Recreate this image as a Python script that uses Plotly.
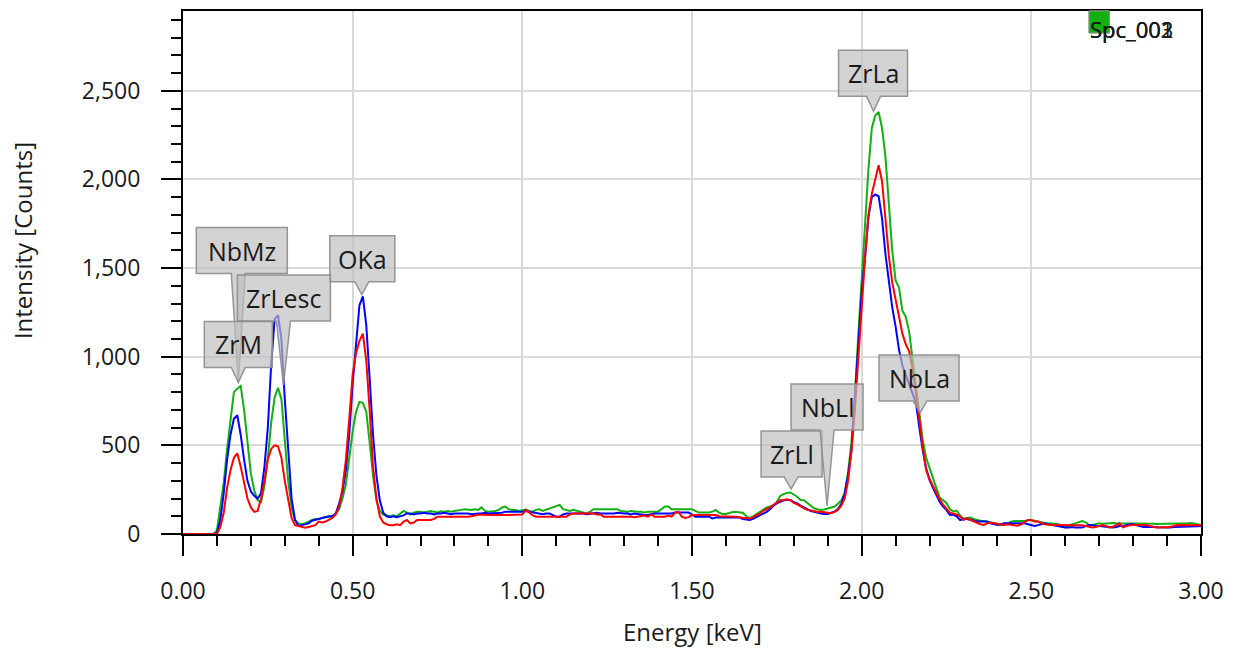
import plotly.graph_objects as go

# ---------------- data ----------------
CHANNEL_WIDTH_KEV = 0.01
channel_index = list(range(301))
energy_kev = [round(i * CHANNEL_WIDTH_KEV, 2) for i in channel_index]

spc_green = [
    0, 0, 0, 0, 0, 0, 0, 0, 0, 0,
    20, 150, 290, 480, 660, 800, 820, 835, 700, 520,
    340, 245, 190, 180, 270, 430, 630, 770, 825, 760,
    540, 300, 150, 80, 60, 55, 60, 70, 80, 85,
    85, 90, 95, 95, 100, 115, 140, 200, 280, 430,
    580, 690, 745, 740, 690, 520, 330, 190, 130, 110,
    105, 100, 105, 100, 115, 130, 120, 110, 120, 126,
    126, 122, 126, 130, 126, 122, 128, 126, 130, 126,
    130, 135, 136, 140, 136, 136, 140, 136, 150, 130,
    126, 126, 130, 136, 150, 155, 140, 136, 136, 130,
    136, 138, 130, 126, 136, 140, 130, 136, 145, 150,
    155, 164, 140, 136, 130, 136, 130, 126, 120, 116,
    126, 140, 140, 142, 140, 140, 140, 140, 140, 130,
    126, 126, 130, 126, 126, 126, 122, 126, 126, 126,
    126, 140, 155, 155, 140, 140, 140, 140, 140, 140,
    140, 130, 121, 121, 121, 121, 126, 136, 120, 113,
    113, 120, 124, 124, 124, 120, 100, 90, 100, 113,
    125, 135, 150, 155, 160, 180, 215, 225, 232, 234,
    222, 210, 192, 190, 175, 160, 145, 140, 136, 138,
    145, 150, 155, 170, 190, 230, 350, 520, 780, 1120,
    1450, 1780, 2060, 2290, 2360, 2380, 2290, 2130, 1880, 1600,
    1430, 1390, 1260, 1225, 1140, 1000, 830, 680, 530, 430,
    370, 320, 260, 205, 190, 175, 140, 126, 132, 105,
    88, 90, 93, 85, 79, 75, 73, 70, 66, 64,
    58, 51, 51, 60, 70, 73, 75, 73, 73, 75,
    79, 75, 70, 66, 62, 60, 60, 58, 55, 45,
    37, 45, 55, 60, 65, 73, 66, 51, 51, 55,
    60, 58, 60, 60, 62, 60, 60, 60, 58, 60,
    60, 62, 60, 58, 60, 60, 58, 57, 57, 57,
    60, 60, 58, 60, 60, 60, 60, 62, 60, 55,
    50,
]

spc_blue = [
    0, 0, 0, 0, 0, 0, 0, 0, 0, 0,
    5, 80, 230, 420, 560, 650, 670, 560, 420, 300,
    240, 215, 200, 230, 380, 600, 960, 1210, 1235, 1100,
    760, 470, 200, 80, 45, 50, 55, 60, 75, 80,
    85, 90, 95, 100, 100, 115, 170, 240, 360, 560,
    850, 1080, 1290, 1340, 1180, 880, 560, 330, 190, 120,
    100, 95, 100, 95, 98, 105, 116, 116, 110, 116,
    116, 120, 116, 116, 110, 116, 116, 120, 116, 112,
    116, 116, 120, 116, 116, 112, 116, 116, 116, 120,
    116, 116, 120, 116, 120, 126, 126, 126, 122, 126,
    126, 130, 126, 122, 116, 116, 112, 116, 116, 107,
    98, 98, 110, 116, 116, 120, 116, 116, 116, 112,
    116, 116, 120, 116, 116, 112, 116, 116, 120, 116,
    116, 116, 110, 116, 112, 107, 107, 107, 112, 116,
    116, 116, 120, 116, 116, 121, 121, 121, 121, 121,
    110, 98, 98, 98, 98, 98, 88, 93, 93, 93,
    93, 93, 93, 93, 93, 85, 80, 79, 85, 95,
    107, 117, 125, 140, 160, 173, 180, 190, 192, 192,
    180, 173, 160, 150, 140, 130, 126, 120, 116, 113,
    113, 120, 126, 140, 170, 230, 330, 470, 760, 1100,
    1360, 1560, 1790, 1900, 1915, 1905, 1780, 1580, 1420, 1280,
    1170, 1040, 950, 900, 850, 800, 740, 600, 470, 370,
    305, 260, 215, 180, 155, 135, 107, 110, 100, 79,
    85, 85, 80, 75, 70, 70, 70, 70, 60, 55,
    51, 55, 60, 60, 60, 60, 60, 60, 60, 55,
    50, 45, 50, 55, 60, 55, 51, 51, 45, 40,
    37, 37, 40, 37, 37, 37, 45, 51, 51, 45,
    45, 42, 40, 37, 37, 40, 45, 45, 50, 55,
    55, 50, 45, 40, 40, 42, 40, 38, 37, 37,
    37, 37, 40, 40, 40, 40, 40, 42, 42, 44,
    45,
]

spc_red = [
    0, 0, 0, 0, 0, 0, 0, 0, 0, 0,
    0, 40, 120, 260, 360, 430, 455, 380, 290, 200,
    150, 125, 130, 200, 300, 420, 480, 500, 495, 430,
    300, 200, 90, 50, 45, 40, 35, 40, 45, 50,
    70, 65, 70, 80, 90, 110, 150, 260, 420, 650,
    900, 1020, 1090, 1130, 980, 700, 380, 200, 100, 65,
    55, 50, 50, 55, 50, 70, 79, 60, 65, 79,
    79, 75, 79, 79, 85, 98, 98, 98, 94, 98,
    98, 98, 98, 94, 98, 100, 105, 109, 109, 107,
    107, 107, 107, 105, 107, 107, 107, 107, 107, 110,
    110, 136, 120, 107, 98, 98, 98, 98, 98, 98,
    98, 98, 98, 98, 110, 116, 116, 116, 116, 116,
    116, 116, 110, 110, 98, 98, 98, 98, 98, 98,
    98, 102, 98, 94, 98, 98, 104, 98, 110, 98,
    98, 98, 98, 104, 98, 120, 126, 98, 90, 95,
    107, 107, 107, 107, 107, 107, 104, 107, 100, 100,
    100, 100, 100, 98, 95, 90, 90, 88, 95, 105,
    115, 131, 140, 150, 165, 180, 190, 192, 196, 190,
    175, 168, 155, 145, 136, 132, 128, 126, 126, 124,
    120, 117, 125, 136, 160, 200, 300, 470, 700, 1000,
    1290, 1560, 1800, 1920, 2000, 2080, 1990, 1780, 1570, 1420,
    1320, 1220, 1130, 1070, 1030, 930, 800, 650, 490, 360,
    310, 270, 230, 195, 165, 145, 120, 115, 110, 100,
    79, 88, 80, 70, 65, 55, 51, 60, 64, 60,
    55, 51, 51, 55, 51, 47, 47, 55, 65, 79,
    79, 70, 70, 60, 55, 51, 51, 51, 50, 50,
    50, 50, 50, 50, 50, 50, 45, 40, 37, 40,
    45, 51, 45, 37, 40, 50, 60, 37, 45, 50,
    51, 51, 50, 50, 51, 45, 40, 37, 37, 40,
    37, 40, 45, 51, 51, 51, 50, 50, 50, 50,
    50,
]

series_names = ["Spc_003", "Spc_002", "Spc_001"]
series_colors = ["#12b012", "#0000ff", "#ff0000"]

# peak identification labels
peak_labels = ["ZrLa", "OKa", "NbMz", "ZrLesc", "ZrM", "ZrLl", "NbLl", "NbLa"]
peak_energy = [2.035, 0.527, 0.163, 0.296, 0.163, 1.792, 1.898, 2.172]
peak_counts = [2384, 1350, 860, 840, 855, 254, 158, 683]

# ---------------- styling (callout geometry in px) ----------------
# label -> (box centre x offset from tip, gap between tip and box bottom, box width)
callout_geom = {
    "ZrLa": (-0.5, 15, 69),
    "OKa": (0.5, 13, 65),
    "NbMz": (3.5, 108, 91),
    "ZrLesc": (0.5, 64, 93),
    "ZrM": (0, 15, 68),
    "ZrLl": (0.5, 12, 61),
    "NbLl": (0, 76, 72),
    "NbLa": (-1, 12, 80),
}
BOX_H = 46
TAIL_HALF = 7

FONT = "Open Sans"
TXT = "#1a1a1a"

fig = go.Figure()
for name, col, vals in zip(series_names, series_colors,
                           [spc_green, spc_blue, spc_red]):
    fig.add_trace(go.Scatter(
        x=energy_kev, y=vals, name=name, mode="lines",
        line=dict(color=col, width=2), showlegend=False,
    ))

shapes = []
annotations = []
for lab, e, c in zip(peak_labels, peak_energy, peak_counts):
    dx, gap, w = callout_geom[lab]
    left, right = dx - w / 2, dx + w / 2
    bot, top = gap, gap + BOX_H
    path = (f"M {left},{bot} L {left},{top} L {right},{top} L {right},{bot} "
            f"L {TAIL_HALF},{bot} L 0,0 L {-TAIL_HALF},{bot} Z")
    shapes.append(dict(
        type="path", xref="x", yref="y", xsizemode="pixel", ysizemode="pixel",
        xanchor=e, yanchor=c, path=path,
        fillcolor="rgba(190,190,190,0.68)",
        line=dict(color="rgba(140,140,140,0.9)", width=1.5), layer="above",
    ))
    annotations.append(dict(
        x=e, y=c, xref="x", yref="y", text=lab, showarrow=False,
        xanchor="center", yanchor="middle", xshift=dx, yshift=gap + BOX_H / 2,
        font=dict(family=FONT, size=25, color=TXT),
    ))

# overlapped legend swatches & labels (as in the reference)
for col in ["#ff0000", "#0000ff", "#12b012"]:
    shapes.append(dict(
        type="rect", xref="paper", yref="paper", x0=0.890, x1=0.910,
        y0=0.958, y1=1.0, fillcolor=col,
        line=dict(color="rgba(150,150,150,0.8)", width=1), layer="above",
    ))
for name in sorted(series_names):
    annotations.append(dict(
        x=0.889, y=0.966, xref="paper", yref="paper", text=name,
        showarrow=False, xanchor="left", yanchor="middle",
        font=dict(family=FONT, size=22, color=TXT),
    ))

# axis titles
annotations.append(dict(
    x=0.5, y=0, xref="paper", yref="paper", text="Energy [keV]",
    showarrow=False, xanchor="center", yanchor="middle", yshift=-97,
    font=dict(family=FONT, size=24, color=TXT),
))
annotations.append(dict(
    x=0, y=0.56, xref="paper", yref="paper", text="Intensity [Counts]",
    showarrow=False, xanchor="center", yanchor="middle", xshift=-161,
    textangle=-90, font=dict(family=FONT, size=24, color=TXT),
))

axis_common = dict(
    showline=True, linecolor="black", linewidth=2, mirror=True,
    ticks="outside", tickcolor="black", tickwidth=2, ticklen=20,
    showgrid=True, gridcolor="#d9d9d9", gridwidth=2, zeroline=False,
    automargin=False, tickfont=dict(family=FONT, size=23, color=TXT),
)

# the page body has an 8px default margin: size/margins compensate so the
# plot area lands at x 183..1201, y 11..534 of the 1235x648 window
fig.update_layout(
    template="none",
    width=1227, height=640,
    margin=dict(l=175, r=34, t=3, b=114),
    paper_bgcolor="white", plot_bgcolor="white",
    font=dict(family=FONT, color=TXT),
    xaxis=dict(range=[0, 3], tick0=0, dtick=0.5, tickformat=".2f",
               ticklabelstandoff=15,
               minor=dict(dtick=0.1, ticks="outside", ticklen=10,
                          tickwidth=2, tickcolor="black", showgrid=False),
               **axis_common),
    yaxis=dict(range=[0, 2950], tick0=0, dtick=500, tickformat=",d",
               ticklabelstandoff=16,
               minor=dict(dtick=100, ticks="outside", ticklen=10,
                          tickwidth=2, tickcolor="black", showgrid=False),
               **axis_common),
    xaxis2=dict(overlaying="x", anchor="y", side="bottom", range=[0, 3],
                tickvals=[0, 1, 2, 3], ticks="outside", ticklen=30,
                tickwidth=2, tickcolor="black", showticklabels=False,
                showgrid=False, showline=False, zeroline=False, automargin=False),
    yaxis2=dict(overlaying="y", anchor="x", side="left", range=[0, 2950],
                tickvals=[0, 1000, 2000], ticks="outside", ticklen=30,
                tickwidth=2, tickcolor="black", showticklabels=False,
                showgrid=False, showline=False, zeroline=False, automargin=False),
    shapes=shapes,
    annotations=annotations,
)

fig.write_html("out.html")
